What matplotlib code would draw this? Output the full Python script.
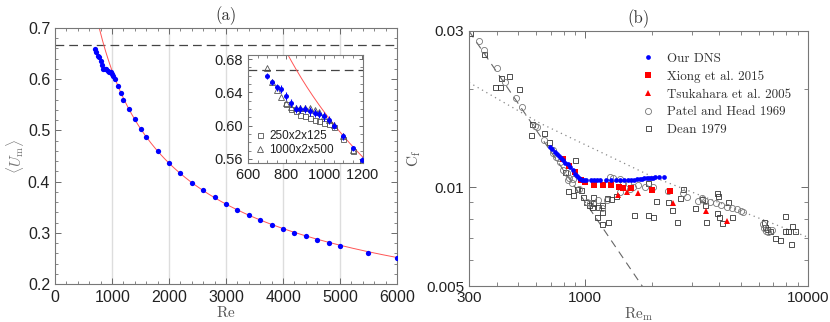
"""
plot.py
=======
Mean velocity vs Re (a) and skin friction vs Re_m (b).
"""

import numpy as np

import matplotlib
matplotlib.use("Agg")
import matplotlib.pyplot as plt  # noqa: E402
from matplotlib.ticker import FixedLocator, MultipleLocator, NullFormatter  # noqa: E402

# ---------------------------------------------------------------------
# data
# ---------------------------------------------------------------------
# panel (a): our DNS, <U_m> vs Re
dns_re = [700, 725, 750, 775, 800, 825, 850, 875, 900, 925, 950, 975, 1000,
          1025, 1050, 1100, 1150, 1200, 1300, 1400, 1500, 1600, 1800, 2000,
          2200, 2400, 2600, 2800, 3000, 3200, 3400, 3600, 3800, 4000, 4200,
          4400, 4600, 4800, 5000, 5500, 6000]
dns_um = [0.6596, 0.6525, 0.646, 0.644, 0.636, 0.627, 0.620, 0.620, 0.620,
          0.617, 0.615, 0.614, 0.611, 0.607, 0.600, 0.587, 0.573, 0.559,
          0.542, 0.522, 0.503, 0.487, 0.459, 0.436, 0.416, 0.398, 0.383,
          0.369, 0.356, 0.345, 0.334, 0.325, 0.315, 0.307, 0.299, 0.293,
          0.286, 0.280, 0.274, 0.261, 0.251]
dns_err = [0.004, 0.004, 0.004, 0.005, 0.005, 0.005, 0.005, 0.005, 0.005,
           0.005, 0.005, 0.005, 0.005, 0.005, 0.004, 0.004, 0.003, 0.003]

# inset: box-size comparison
small_box_re = [800, 825, 850, 875, 900, 925, 950, 975, 1000, 1025, 1050,
                1100, 1150, 1200]
small_box_um = [0.626, 0.620, 0.617, 0.613, 0.611, 0.609, 0.607, 0.605,
                0.603, 0.602, 0.598, 0.584, 0.570, 0.557]
large_box_re = [700, 725, 750, 775, 800, 825, 850, 875, 900, 925, 950, 975,
                1000, 1025, 1050, 1100, 1150, 1200]
large_box_um = [0.669, 0.652, 0.643, 0.634, 0.627, 0.623, 0.621, 0.621,
                0.621, 0.621, 0.619, 0.616, 0.612, 0.607, 0.601, 0.587,
                0.571, 0.556]

# fit  <U_m> = FIT_C * Re**FIT_P   and laminar value 2/3
FIT_C, FIT_P = 19.5, -0.5
U_LAM = 2.0 / 3.0

# panel (b): C_f vs Re_m
dnsb_re = [693, 710, 727, 749, 763, 776, 790, 814, 837, 856, 876, 898, 916,
           933, 945, 967, 987, 1004, 1057, 1096, 1132, 1169, 1239, 1308,
           1373, 1433, 1494, 1550, 1602, 1656, 1703, 1755, 1796, 1842, 1884,
           1934, 1973, 2016, 2055, 2153, 2259]
dnsb_cf = [0.0133, 0.0131, 0.01285, 0.0126, 0.01245, 0.0123, 0.0121,
           0.0119, 0.0118, 0.0115, 0.01133, 0.0110, 0.01082, 0.01066,
           0.01058, 0.0105, 0.0105, 0.0105, 0.0105, 0.0105, 0.0105, 0.0105,
           0.0105, 0.01055, 0.01055, 0.01055, 0.01052, 0.0105, 0.0105,
           0.01055, 0.0106, 0.0106, 0.0106, 0.01065, 0.01068, 0.0107,
           0.0107, 0.0107, 0.01072, 0.01072, 0.01072]

xiong_re = [796, 847, 901, 952, 996, 1093, 1196, 1304, 1416, 1480, 1603,
            1999, 2400]
xiong_cf = [0.01218, 0.01164, 0.01116, 0.01052, 0.0104, 0.01014, 0.01014,
            0.01014, 0.0100, 0.00998, 0.00993, 0.00982, 0.00977]

tsuka_re = [1406, 1535, 1729, 2484, 3470, 4312]
tsuka_cf = [0.00947, 0.0097, 0.00959, 0.00898, 0.00847, 0.00791]

patel_re = [333, 352, 402, 435, 488, 517, 594, 604, 652, 718, 718, 735, 756,
            769, 796, 824, 847, 877, 1290, 1335, 1430, 1480, 1559, 1642,
            1729, 1853, 2020, 2358, 2755, 2851, 3217, 3330, 3446, 3628,
            3861, 4053, 4312, 4542, 4783, 4984, 5123, 6301, 6365, 6455,
            6636, 6866, 838, 868, 939, 1013, 1049, 1143, 1183, 1246, 1431,
            1586]
patel_cf = [0.02797, 0.02625, 0.0232, 0.0209, 0.01878, 0.01763, 0.01543,
            0.01532, 0.01395, 0.0130, 0.0127, 0.0124, 0.01226, 0.01198,
            0.01129, 0.01103, 0.01065, 0.01058, 0.01078, 0.01065, 0.01058,
            0.01029, 0.01034, 0.01005, 0.01016, 0.01005, 0.01005, 0.00977,
            0.00959, 0.00937, 0.00909, 0.00926, 0.00909, 0.00905, 0.00894,
            0.00883, 0.00873, 0.00863, 0.00857, 0.00849, 0.00843, 0.00773,
            0.0075, 0.00738, 0.00733, 0.00741, 0.01053, 0.01034, 0.00989,
            0.00905, 0.00894, 0.00915, 0.00863, 0.00915, 0.0097, 0.00986]

dean_re = [303, 350, 418, 452, 391, 415, 502, 578, 569, 650, 689, 807, 898,
           838, 920, 952, 883, 979, 1006, 1041, 1078, 1143, 1067, 1183, 1124,
           1268, 1183, 1246, 1299, 1372, 1085, 1183, 1653, 1917, 2005, 1904,
           2076, 2358, 2441, 2571, 2661, 2755, 3108, 3330, 3470, 3888, 3957,
           3914, 3985, 4123, 4542, 4372, 3435, 6345, 6408, 6521, 6751, 7110,
           7486, 7884, 7884, 8163, 8449, 8743, 8358]
dean_cf = [0.0296, 0.02548, 0.0215, 0.02187, 0.02028, 0.0202, 0.01992,
           0.01565, 0.01448, 0.01466, 0.01379, 0.01116, 0.01215, 0.00975,
           0.00986, 0.00981, 0.00948, 0.00932, 0.00905, 0.00883, 0.00898,
           0.00869, 0.00869, 0.00843, 0.00814, 0.00786, 0.00773, 0.00926,
           0.0092, 0.00941, 0.00937, 0.00883, 0.00824, 0.00824, 0.0081,
           0.01029, 0.00909, 0.00905, 0.00853, 0.00782, 0.00926, 0.00989,
           0.00863, 0.0092, 0.00786, 0.00963, 0.00941, 0.00837, 0.00814,
           0.0078, 0.0081, 0.00902, 0.00883, 0.00786, 0.00759, 0.00745,
           0.00736, 0.00699, 0.00691, 0.0082, 0.00736, 0.00736, 0.00762,
           0.00736, 0.00672]

# laminar line C_f = LAM_A / Re_m, turbulent correlation
LAM_A = 9.0
turb_re = [300, 625, 1986, 9870, 10000]
turb_cf = [0.0209, 0.0157, 0.0108, 0.00707, 0.00704]

SANS = "Liberation Sans"
SERIF = "cmr10"
GRID_GRAY = "#dddddd"
SPINE = "#777777"


def style_ticks(ax, size):
    ax.tick_params(which="both", direction="in", top=True, right=True,
                   color="#555555", labelsize=size, labelcolor="#222222")
    ax.tick_params(which="major", length=4, width=0.6)
    ax.tick_params(which="minor", length=2, width=0.5)
    for lab in ax.get_xticklabels() + ax.get_yticklabels():
        lab.set_family(SANS)
    for s in ax.spines.values():
        s.set_color(SPINE)
        s.set_linewidth(0.8)


# =====================================================================
# PANEL (a)
# =====================================================================
def plot_velocity(fig):
    ax = fig.add_axes([0.0663, 0.118, 0.412, 0.795])
    re_fit = np.linspace(700, 6000, 400)
    for g in (1000, 2000, 3000, 4000, 5000):
        ax.axvline(g, color=GRID_GRAY, lw=1.0, zorder=0)
    ax.axhline(U_LAM, color="#444444", lw=0.9, ls=(0, (7, 4)), zorder=1)
    ax.plot(re_fit, FIT_C * re_fit ** FIT_P, color="#ff5555", lw=0.7, zorder=2)
    ax.plot(dns_re, dns_um, "o", color="#0000ff", ms=3.8, mew=0, zorder=3)
    ax.set_xlim(0, 6000)
    ax.set_ylim(0.2, 0.7)
    ax.xaxis.set_major_locator(MultipleLocator(1000))
    ax.xaxis.set_minor_locator(MultipleLocator(200))
    ax.yaxis.set_major_locator(MultipleLocator(0.1))
    ax.yaxis.set_minor_locator(MultipleLocator(0.02))
    ax.set_yticks([0.2, 0.3, 0.4, 0.5, 0.6, 0.7],
                  ["0.2", "0.3", "0.4", "0.5", "0.6", "0.7"])
    style_ticks(ax, 11.5)
    ax.set_xlabel(r"$\rm Re$", fontsize=11, color="#555555", labelpad=0)
    ax.set_ylabel(r"$\langle U_{\rm m}\rangle$", fontsize=11, color="#777777",
                  labelpad=1)
    ax.set_title("(a)", fontsize=12, family=SERIF, color="#333333", pad=6)

    # ---- inset ----
    ins = fig.add_axes([0.2988, 0.4938, 0.1386, 0.3354])
    re_in = np.linspace(800, 1210, 200)
    ins.axhline(U_LAM, color="#444444", lw=0.9, ls=(0, (7, 4)), zorder=1)
    ins.plot(re_in, FIT_C * re_in ** FIT_P, color="#ff5555", lw=0.7, zorder=2)
    ins.plot(small_box_re, small_box_um, "s", mfc="none", mec="#555555",
             ms=3.6, mew=0.6, label="250x2x125", zorder=3)
    ins.plot(large_box_re, large_box_um, "^", mfc="none", mec="#555555",
             ms=4.0, mew=0.6, label="1000x2x500", zorder=3)
    n_in = len(dns_err)
    ins.errorbar(dns_re[:n_in], dns_um[:n_in], yerr=dns_err, fmt="o",
                 color="#0000ff", ms=3.6, mew=0, elinewidth=0.8, capsize=0,
                 zorder=4)
    ins.set_xlim(600, 1205)
    ins.set_ylim(0.555, 0.685)
    ins.xaxis.set_major_locator(MultipleLocator(200))
    ins.xaxis.set_minor_locator(MultipleLocator(50))
    ins.set_yticks([0.56, 0.60, 0.64, 0.68], ["0.56", "0.60", "0.64", "0.68"])
    ins.yaxis.set_minor_locator(MultipleLocator(0.01))
    style_ticks(ins, 10.5)
    ins.tick_params(which="major", length=3)
    leg = ins.legend(loc="lower left", frameon=False, fontsize=8.5,
                     handlelength=0.8, handletextpad=0.4, labelspacing=0.15,
                     borderaxespad=0.2, prop={"family": SANS, "size": 8.5})
    for t in leg.get_texts():
        t.set_color("#222222")


# =====================================================================
# PANEL (b)
# =====================================================================
def plot_friction(fig):
    ax = fig.add_axes([0.565, 0.1118, 0.4084, 0.792])
    ax.set_xscale("log")
    ax.set_yscale("log")
    re_lam = np.array([300, 2000])
    ax.plot(re_lam, LAM_A / re_lam, color="#666666", lw=0.8,
            ls=(0, (7, 5)), zorder=1)
    ax.plot(turb_re, turb_cf, color="#888888", lw=0.9, ls=(0, (1, 3)),
            zorder=1)
    ax.plot(dean_re, dean_cf, "s", mfc="none", mec="#333333", ms=3.6,
            mew=0.6, zorder=2, label="Dean 1979")
    ax.plot(patel_re, patel_cf, "o", mfc="none", mec="#777777", ms=4.4,
            mew=0.6, zorder=2, label="Patel and Head 1969")
    ax.plot(tsuka_re, tsuka_cf, "^", color="#ff0000", ms=4.2, mew=0,
            zorder=3, label="Tsukahara et al. 2005")
    ax.plot(xiong_re, xiong_cf, "s", color="#ff0000", ms=4.4, mew=0,
            zorder=3, label="Xiong et al. 2015")
    ax.plot(dnsb_re, dnsb_cf, "o", color="#0000ff", ms=3.4, mew=0, zorder=4,
            label="Our DNS")
    ax.set_xlim(300, 10000)
    ax.set_ylim(0.005, 0.03)
    ax.xaxis.set_major_locator(FixedLocator([300, 1000, 10000]))
    ax.xaxis.set_minor_locator(FixedLocator(
        [400, 500, 600, 700, 800, 900, 2000, 3000, 4000, 5000, 6000, 7000,
         8000, 9000]))
    ax.xaxis.set_minor_formatter(NullFormatter())
    ax.set_xticks([300, 1000, 10000], ["300", "1000", "10000"])
    ax.yaxis.set_major_locator(FixedLocator([0.005, 0.01, 0.03]))
    ax.yaxis.set_minor_locator(FixedLocator([0.006, 0.007, 0.008, 0.009,
                                             0.02]))
    ax.yaxis.set_minor_formatter(NullFormatter())
    ax.set_yticks([0.005, 0.01, 0.03], ["0.005", "0.01", "0.03"])
    style_ticks(ax, 11)
    ax.tick_params(which="minor", length=3)
    ax.tick_params(which="major", length=5)
    ax.set_xlabel(r"$\rm Re_m$", fontsize=11, color="#555555", labelpad=0)
    ax.set_ylabel(r"$\rm C_f$", fontsize=11, color="#555555", labelpad=2)
    ax.set_title("(b)", fontsize=12, family=SERIF, color="#333333", pad=6)

    handles, labels = ax.get_legend_handles_labels()
    order = [4, 3, 2, 1, 0]
    leg = ax.legend([handles[i] for i in order], [labels[i] for i in order],
                    loc="upper left", bbox_to_anchor=(0.475, 0.96),
                    frameon=False, handlelength=1.0, handletextpad=0.9,
                    labelspacing=0.42, prop={"family": SERIF, "size": 9.4})
    for t in leg.get_texts():
        t.set_color("#333333")


def main():
    plt.rcParams["mathtext.fontset"] = "cm"
    plt.rcParams["axes.formatter.use_mathtext"] = True
    fig = plt.figure(figsize=(8.3, 3.22), dpi=100)
    plot_velocity(fig)
    plot_friction(fig)
    fig.savefig("out.png", dpi=100)
    plt.close(fig)


if __name__ == "__main__":
    main()
